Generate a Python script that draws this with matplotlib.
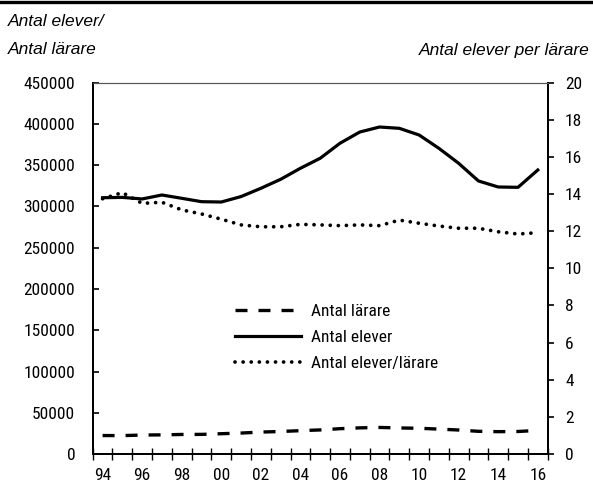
import matplotlib
matplotlib.use("Agg")
import matplotlib.pyplot as plt
from matplotlib.lines import Line2D
from matplotlib import font_manager as fm
import numpy as np

# ---- data ----
years = [str(y) for y in range(1994, 2017)]
year_labels = ["94", "", "96", "", "98", "", "00", "", "02", "", "04", "", "06", "",
               "08", "", "10", "", "12", "", "14", "", "16"]
elever = [310600, 311000, 309100, 313900, 309900, 305800, 305400, 312000, 322000,
          332900, 346300, 358400, 376600, 390200, 396300, 394700, 386600, 370500,
          352300, 330900, 323600, 323200, 344200]
larare = [22400, 22300, 23000, 23200, 23700, 23800, 24600, 25400, 26600, 27300,
          28300, 29200, 30700, 31700, 32200, 31600, 31200, 30200, 29100, 27500,
          27100, 27300, 28600]
elever_per_larare = [13.75, 14.08, 13.50, 13.56, 13.15, 12.93, 12.65, 12.34, 12.24,
                     12.24, 12.37, 12.34, 12.30, 12.34, 12.30, 12.60, 12.43, 12.28,
                     12.16, 12.16, 11.97, 11.85, 11.92]
left_ticks = list(range(0, 450001, 50000))
right_ticks = list(range(0, 21, 2))

# pick a condensed font if one is installed
cond_fp = None
for f in fm.fontManager.ttflist:
    n = f.fname.lower()
    if ('narrow' in n or 'condensed' in n) and 'bold' not in n and 'oblique' not in n \
            and 'italic' not in n and 'light' not in n:
        if cond_fp is None or 'liberation' in n or 'roboto' in n:
            cond_fp = f.fname
if cond_fp:
    tick_font = fm.FontProperties(fname=cond_fp, size=12.5)
else:
    tick_font = fm.FontProperties(family='DejaVu Sans', stretch='condensed', size=11)

fig = plt.figure(figsize=(5.93, 4.83), dpi=100)
ax = fig.add_axes([0.1563, 0.06, 0.9236 - 0.1563, 0.8288 - 0.06])
ax2 = ax.twinx()

x = np.arange(len(years))
l1, = ax.plot(x, larare, color='black', lw=2.4, dashes=(3.6, 3.3),
              solid_capstyle='butt', dash_capstyle='butt', label='Antal lärare')
l2, = ax.plot(x, elever, color='black', lw=2.3, label='Antal elever')
l3, = ax2.plot(x, elever_per_larare, color='black', lw=2.7, dashes=(0.01, 2.15),
               dash_capstyle='round', label='Antal elever/lärare')

ax.set_xlim(-0.5, len(years) - 0.5)
ax.set_ylim(0, 450000)
ax2.set_ylim(0, 20)

ax.set_yticks(left_ticks)
ax.set_yticklabels([str(v) for v in left_ticks])
ax2.set_yticks(right_ticks)
ax2.set_yticklabels([str(v) for v in right_ticks])

ax.set_xticks(x)
ax.set_xticklabels(year_labels)
ax.set_xticks(np.arange(-0.5, len(years) + 0.5, 1), minor=True)
ax.tick_params(axis='x', which='major', length=0, pad=10)
ax.tick_params(axis='x', which='minor', direction='inout', length=8.4, width=1.0,
               color='black')
ax.tick_params(axis='y', direction='in', length=4.2, width=1.2, pad=12.5)
ax2.tick_params(axis='y', direction='out', length=4.0, width=1.2, pad=8.5)

for lab in ax.get_xticklabels() + ax.get_yticklabels() + ax2.get_yticklabels():
    lab.set_fontproperties(tick_font)

for a in (ax, ax2):
    a.spines['left'].set_linewidth(1.4)
    a.spines['right'].set_linewidth(1.4)
    a.spines['bottom'].set_linewidth(1.4)
    a.spines['top'].set_linewidth(0.8)
    a.spines['top'].set_color('#555555')

leg = ax.legend(handles=[l1, l2, l3], loc='upper left',
                bbox_to_anchor=(0.313, 0.405), frameon=False, prop=tick_font,
                handlelength=3.8, handletextpad=0.6, labelspacing=0.62,
                borderpad=0, borderaxespad=0)

hdr = dict(family=['Liberation Sans', 'DejaVu Sans'], style='italic', fontsize=12.5,
           va='center')
fig.text(0.0135, 1 - 22 / 483, 'Antal elever/', ha='left', **hdr)
fig.text(0.0135, 1 - 50 / 483, 'Antal lärare', ha='left', **hdr)
fig.text(0.995, 1 - 50 / 483, 'Antal elever per lärare', ha='right', **hdr)

fig.add_artist(Line2D([0, 1], [1 - 1.5 / 483, 1 - 1.5 / 483], transform=fig.transFigure,
                      color='black', lw=2.4))

fig.savefig('out.png', dpi=100)
